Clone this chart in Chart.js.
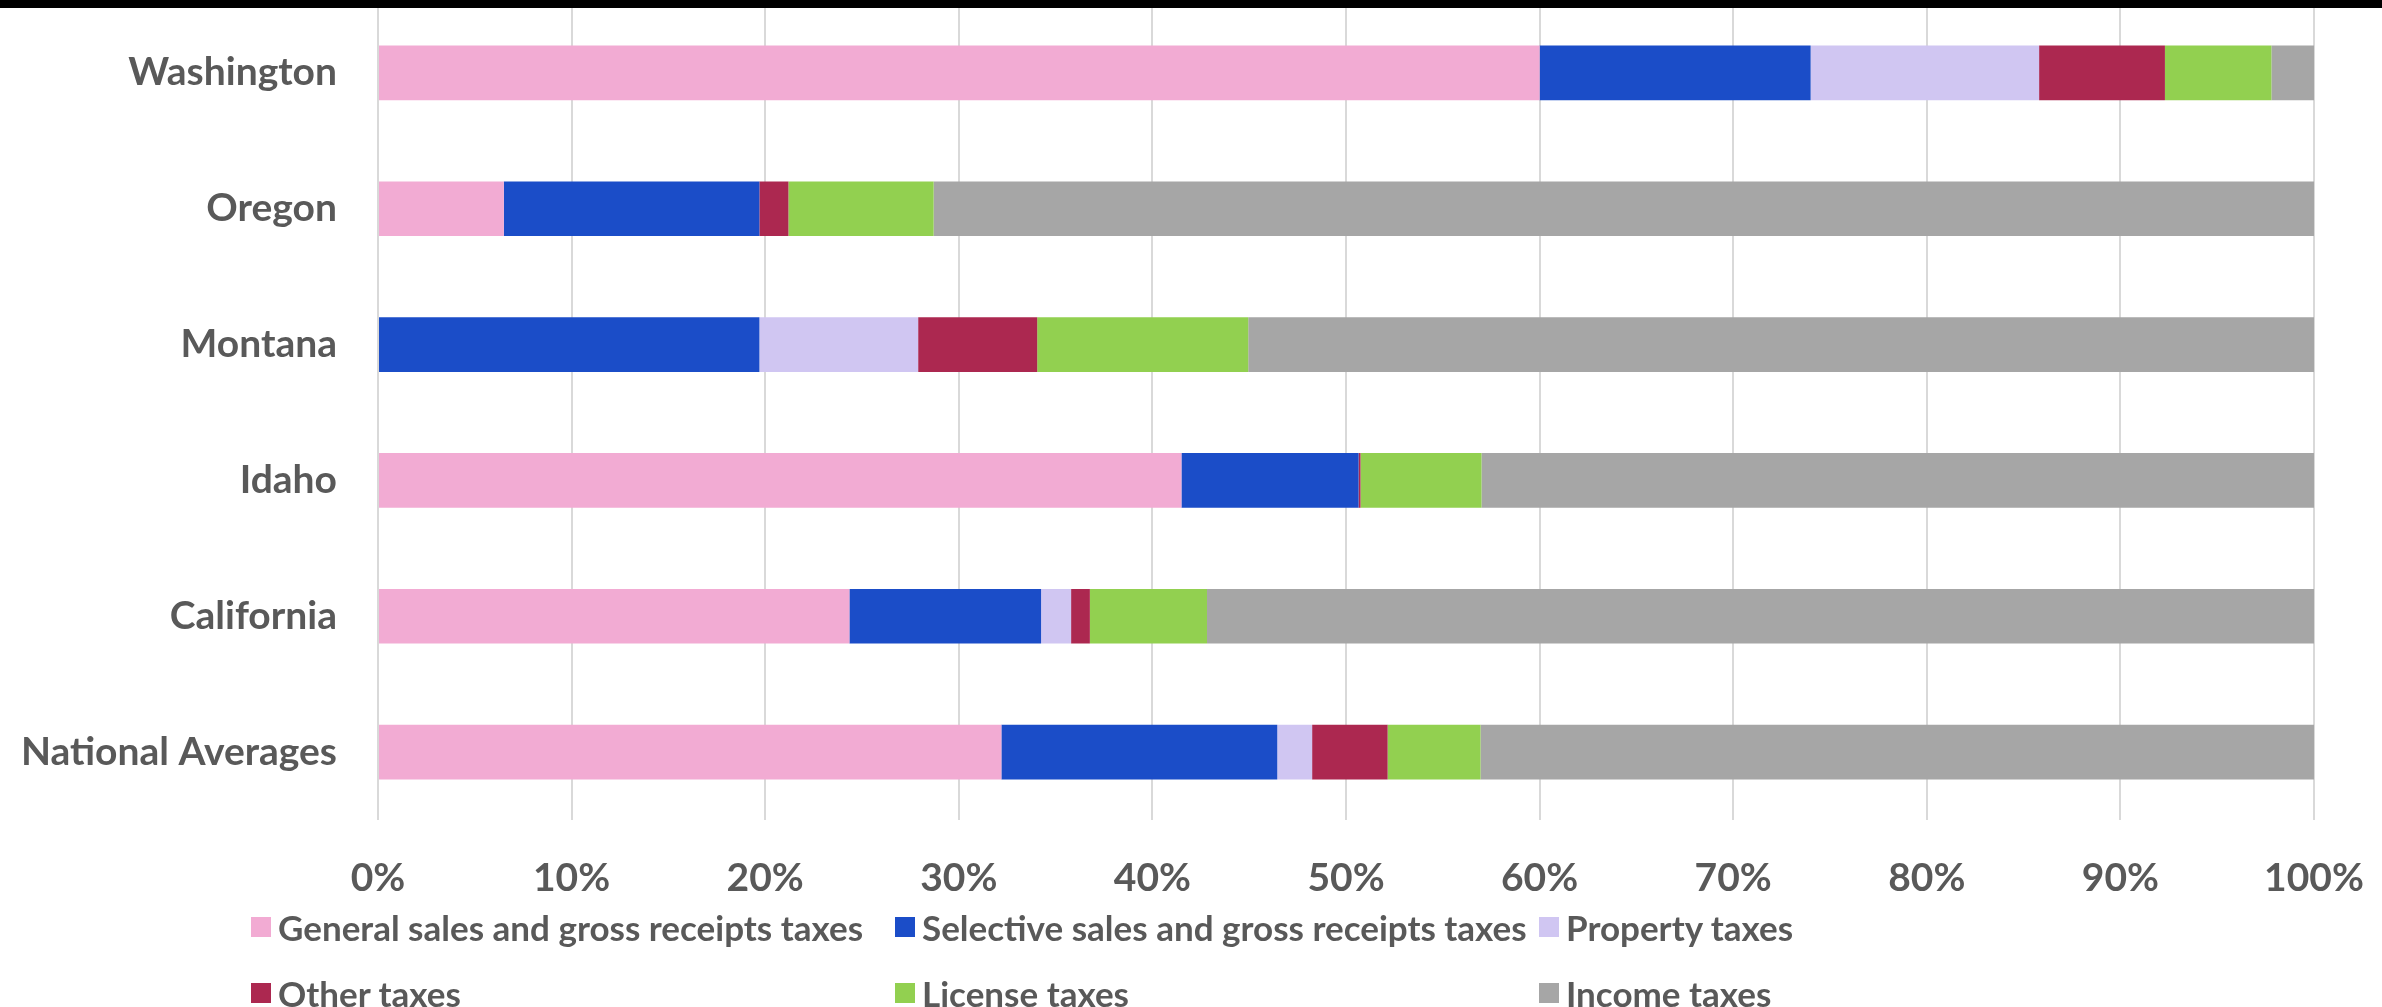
<!DOCTYPE html>
<html lang="en">
<head>
    <meta charset="UTF-8">
    <title>Tax revenue by source</title>
    <script src="https://cdn.jsdelivr.net/npm/chart.js"></script>
    <style>
        html, body { margin: 0; padding: 0; background: #fff; }
        #wrap { position: relative; width: 2382px; height: 1007px; overflow: hidden; }
        #topBar { position: absolute; left: 0; top: 0; width: 2382px; height: 8px; background: #000; }
        #legend {
            position: absolute; left: 251px; top: 894px;
            display: grid; grid-template-columns: 644px 644px 644px; grid-auto-rows: 66px;
            font-family: Lato, sans-serif; font-weight: bold; font-size: 35px; color: #595959;
        }
        #legend .item { display: flex; align-items: center; white-space: nowrap; }
        #legend .box { width: 20px; height: 20px; margin-right: 7px; flex: none; }
    </style>
</head>
<body>
<div id="wrap">
    <canvas id="myChart" width="2382" height="1007"></canvas>
    <div id="topBar"></div>
    <div id="legend"></div>
</div>

<script>
    // share of tax revenue, percent
    const states = ['Washington', 'Oregon', 'Montana', 'Idaho', 'California', 'National Averages'];
    const generalSales = [60.0, 6.5, 0, 41.5, 24.35, 32.2];
    const selectiveSales = [14.0, 13.2, 19.7, 9.15, 9.9, 14.25];
    const propertyTax = [11.8, 0, 8.2, 0, 1.55, 1.8];
    const otherTax = [6.5, 1.5, 6.15, 0.1, 0.97, 3.9];
    const licenseTax = [5.5, 7.5, 10.9, 6.25, 6.05, 4.8];
    const incomeTax = [2.2, 71.3, 55.05, 43.0, 57.18, 43.05];
    const xTicks = ['0%', '10%', '20%', '30%', '40%', '50%', '60%', '70%', '80%', '90%', '100%'];

    const series = [
        { label: 'General sales and gross receipts taxes', data: generalSales, color: '#F2ABD3' },
        { label: 'Selective sales and gross receipts taxes', data: selectiveSales, color: '#1B4DC8' },
        { label: 'Property taxes', data: propertyTax, color: '#D0C6F2' },
        { label: 'Other taxes', data: otherTax, color: '#AC2850' },
        { label: 'License taxes', data: licenseTax, color: '#92D050' },
        { label: 'Income taxes', data: incomeTax, color: '#A6A6A6' }
    ];

    const textColor = '#595959';
    const axisFont = { family: 'Lato', weight: 'bold', size: 39 };

    const ctx = document.getElementById('myChart').getContext('2d');
    new Chart(ctx, {
        type: 'bar',
        data: {
            labels: states,
            datasets: series.map(s => ({
                label: s.label,
                data: s.data,
                backgroundColor: s.color,
                borderWidth: 0,
                categoryPercentage: 1,
                barPercentage: 0.403
            }))
        },
        options: {
            indexAxis: 'y',
            responsive: false,
            animation: false,
            layout: { padding: { top: 5, right: 68, left: 0, bottom: 0 } },
            plugins: {
                legend: { display: false },
                tooltip: { enabled: false }
            },
            scales: {
                x: {
                    stacked: true,
                    min: 0,
                    max: 100,
                    afterFit: s => {
                        s.height = 187;
                        s.paddingLeft = 0;
                        s.paddingRight = 0;
                    },
                    afterBuildTicks: s => { s.ticks = xTicks.map((t, i) => ({ value: i * 10 })); },
                    grid: { color: '#d9d9d9', lineWidth: 2, drawTicks: false },
                    border: { display: false },
                    ticks: {
                        color: textColor,
                        font: axisFont,
                        padding: 35,
                        maxRotation: 0,
                        callback: (v, i) => xTicks[i]
                    }
                },
                y: {
                    stacked: true,
                    afterFit: s => {
                        s.width = 378;
                        s.paddingTop = 0;
                        s.paddingBottom = 0;
                    },
                    grid: { display: false, drawTicks: false },
                    border: { display: false },
                    ticks: { color: textColor, font: axisFont, padding: 41 }
                }
            }
        }
    });

    // legend laid out in three fixed columns
    const legend = document.getElementById('legend');
    series.forEach(s => {
        const item = document.createElement('div');
        item.className = 'item';
        const box = document.createElement('span');
        box.className = 'box';
        box.style.background = s.color;
        const txt = document.createElement('span');
        txt.textContent = s.label;
        item.appendChild(box);
        item.appendChild(txt);
        legend.appendChild(item);
    });
</script>
</body>
</html>
